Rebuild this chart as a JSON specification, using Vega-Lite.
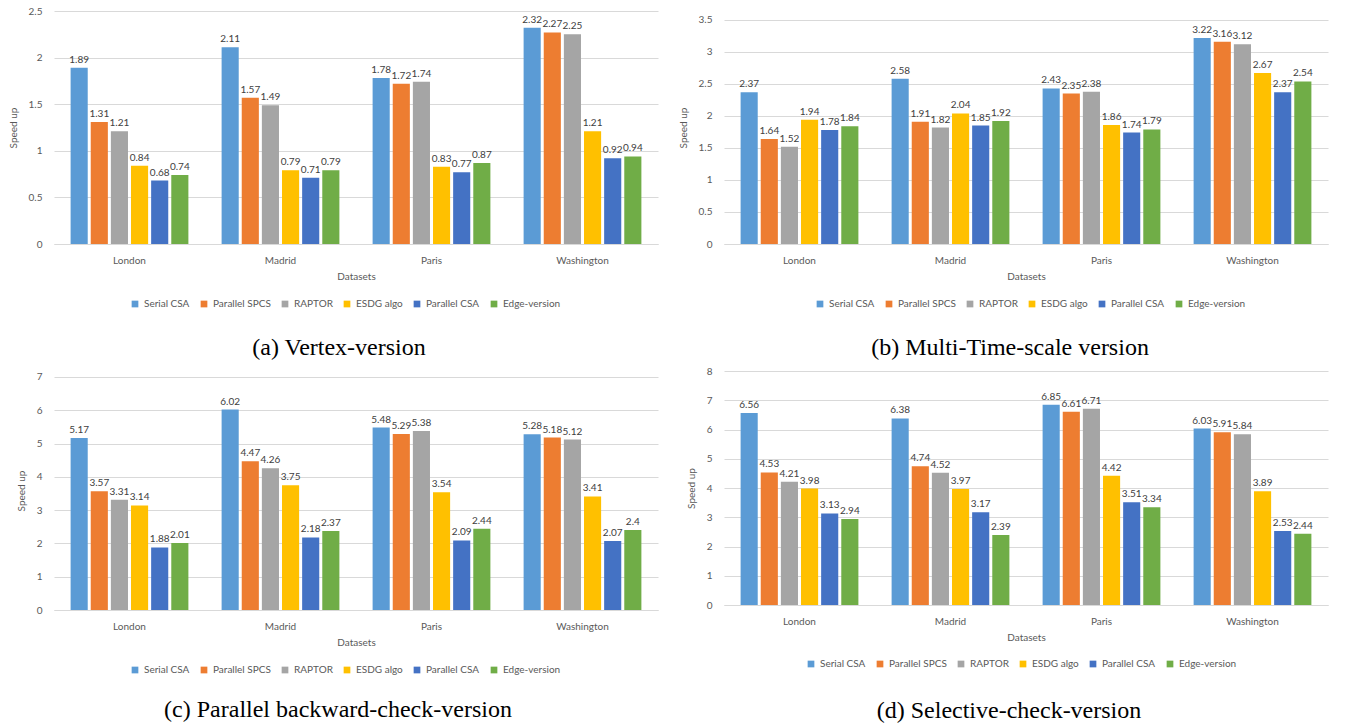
{
"$schema":"https://vega.github.io/schema/vega-lite/v6.json",
"padding":{"left":8,"top":6,"right":8,"bottom":0},
"background":"white",
"datasets":{"d":[
{"panel":"a","city":"London","method":"Serial CSA","value":1.89},{"panel":"a","city":"London","method":"Parallel SPCS","value":1.31},{"panel":"a","city":"London","method":"RAPTOR","value":1.21},{"panel":"a","city":"London","method":"ESDG algo","value":0.84},{"panel":"a","city":"London","method":"Parallel CSA","value":0.68},{"panel":"a","city":"London","method":"Edge-version","value":0.74},
{"panel":"a","city":"Madrid","method":"Serial CSA","value":2.11},{"panel":"a","city":"Madrid","method":"Parallel SPCS","value":1.57},{"panel":"a","city":"Madrid","method":"RAPTOR","value":1.49},{"panel":"a","city":"Madrid","method":"ESDG algo","value":0.79},{"panel":"a","city":"Madrid","method":"Parallel CSA","value":0.71},{"panel":"a","city":"Madrid","method":"Edge-version","value":0.79},
{"panel":"a","city":"Paris","method":"Serial CSA","value":1.78},{"panel":"a","city":"Paris","method":"Parallel SPCS","value":1.72},{"panel":"a","city":"Paris","method":"RAPTOR","value":1.74},{"panel":"a","city":"Paris","method":"ESDG algo","value":0.83},{"panel":"a","city":"Paris","method":"Parallel CSA","value":0.77},{"panel":"a","city":"Paris","method":"Edge-version","value":0.87},
{"panel":"a","city":"Washington","method":"Serial CSA","value":2.32},{"panel":"a","city":"Washington","method":"Parallel SPCS","value":2.27},{"panel":"a","city":"Washington","method":"RAPTOR","value":2.25},{"panel":"a","city":"Washington","method":"ESDG algo","value":1.21},{"panel":"a","city":"Washington","method":"Parallel CSA","value":0.92},{"panel":"a","city":"Washington","method":"Edge-version","value":0.94},
{"panel":"b","city":"London","method":"Serial CSA","value":2.37},{"panel":"b","city":"London","method":"Parallel SPCS","value":1.64},{"panel":"b","city":"London","method":"RAPTOR","value":1.52},{"panel":"b","city":"London","method":"ESDG algo","value":1.94},{"panel":"b","city":"London","method":"Parallel CSA","value":1.78},{"panel":"b","city":"London","method":"Edge-version","value":1.84},
{"panel":"b","city":"Madrid","method":"Serial CSA","value":2.58},{"panel":"b","city":"Madrid","method":"Parallel SPCS","value":1.91},{"panel":"b","city":"Madrid","method":"RAPTOR","value":1.82},{"panel":"b","city":"Madrid","method":"ESDG algo","value":2.04},{"panel":"b","city":"Madrid","method":"Parallel CSA","value":1.85},{"panel":"b","city":"Madrid","method":"Edge-version","value":1.92},
{"panel":"b","city":"Paris","method":"Serial CSA","value":2.43},{"panel":"b","city":"Paris","method":"Parallel SPCS","value":2.35},{"panel":"b","city":"Paris","method":"RAPTOR","value":2.38},{"panel":"b","city":"Paris","method":"ESDG algo","value":1.86},{"panel":"b","city":"Paris","method":"Parallel CSA","value":1.74},{"panel":"b","city":"Paris","method":"Edge-version","value":1.79},
{"panel":"b","city":"Washington","method":"Serial CSA","value":3.22},{"panel":"b","city":"Washington","method":"Parallel SPCS","value":3.16},{"panel":"b","city":"Washington","method":"RAPTOR","value":3.12},{"panel":"b","city":"Washington","method":"ESDG algo","value":2.67},{"panel":"b","city":"Washington","method":"Parallel CSA","value":2.37},{"panel":"b","city":"Washington","method":"Edge-version","value":2.54},
{"panel":"c","city":"London","method":"Serial CSA","value":5.17},{"panel":"c","city":"London","method":"Parallel SPCS","value":3.57},{"panel":"c","city":"London","method":"RAPTOR","value":3.31},{"panel":"c","city":"London","method":"ESDG algo","value":3.14},{"panel":"c","city":"London","method":"Parallel CSA","value":1.88},{"panel":"c","city":"London","method":"Edge-version","value":2.01},
{"panel":"c","city":"Madrid","method":"Serial CSA","value":6.02},{"panel":"c","city":"Madrid","method":"Parallel SPCS","value":4.47},{"panel":"c","city":"Madrid","method":"RAPTOR","value":4.26},{"panel":"c","city":"Madrid","method":"ESDG algo","value":3.75},{"panel":"c","city":"Madrid","method":"Parallel CSA","value":2.18},{"panel":"c","city":"Madrid","method":"Edge-version","value":2.37},
{"panel":"c","city":"Paris","method":"Serial CSA","value":5.48},{"panel":"c","city":"Paris","method":"Parallel SPCS","value":5.29},{"panel":"c","city":"Paris","method":"RAPTOR","value":5.38},{"panel":"c","city":"Paris","method":"ESDG algo","value":3.54},{"panel":"c","city":"Paris","method":"Parallel CSA","value":2.09},{"panel":"c","city":"Paris","method":"Edge-version","value":2.44},
{"panel":"c","city":"Washington","method":"Serial CSA","value":5.28},{"panel":"c","city":"Washington","method":"Parallel SPCS","value":5.18},{"panel":"c","city":"Washington","method":"RAPTOR","value":5.12},{"panel":"c","city":"Washington","method":"ESDG algo","value":3.41},{"panel":"c","city":"Washington","method":"Parallel CSA","value":2.07},{"panel":"c","city":"Washington","method":"Edge-version","value":2.4},
{"panel":"d","city":"London","method":"Serial CSA","value":6.56},{"panel":"d","city":"London","method":"Parallel SPCS","value":4.53},{"panel":"d","city":"London","method":"RAPTOR","value":4.21},{"panel":"d","city":"London","method":"ESDG algo","value":3.98},{"panel":"d","city":"London","method":"Parallel CSA","value":3.13},{"panel":"d","city":"London","method":"Edge-version","value":2.94},
{"panel":"d","city":"Madrid","method":"Serial CSA","value":6.38},{"panel":"d","city":"Madrid","method":"Parallel SPCS","value":4.74},{"panel":"d","city":"Madrid","method":"RAPTOR","value":4.52},{"panel":"d","city":"Madrid","method":"ESDG algo","value":3.97},{"panel":"d","city":"Madrid","method":"Parallel CSA","value":3.17},{"panel":"d","city":"Madrid","method":"Edge-version","value":2.39},
{"panel":"d","city":"Paris","method":"Serial CSA","value":6.85},{"panel":"d","city":"Paris","method":"Parallel SPCS","value":6.61},{"panel":"d","city":"Paris","method":"RAPTOR","value":6.71},{"panel":"d","city":"Paris","method":"ESDG algo","value":4.42},{"panel":"d","city":"Paris","method":"Parallel CSA","value":3.51},{"panel":"d","city":"Paris","method":"Edge-version","value":3.34},
{"panel":"d","city":"Washington","method":"Serial CSA","value":6.03},{"panel":"d","city":"Washington","method":"Parallel SPCS","value":5.91},{"panel":"d","city":"Washington","method":"RAPTOR","value":5.84},{"panel":"d","city":"Washington","method":"ESDG algo","value":3.89},{"panel":"d","city":"Washington","method":"Parallel CSA","value":2.53},{"panel":"d","city":"Washington","method":"Edge-version","value":2.44}
]},
"data":{"name":"d"},
"columns":2,
"spacing":{"column":20,"row":6},
"resolve":{"scale":{"color":"independent","y":"independent","x":"independent","xOffset":"independent"},"legend":{"color":"independent"}},
"concat":[
{"width":604,"height":233,
 "title":{"text":"(a) Vertex-version","orient":"bottom","offset":27,"dx":-17},
 "transform":[{"filter":"datum.panel == 'a'"}],
 "encoding":{
  "x":{"field":"city","type":"nominal","sort":["London","Madrid","Paris","Washington"],"title":"Datasets","scale":{"paddingInner":0.22,"paddingOuter":0.11}},
  "y":{"field":"value","type":"quantitative","title":"Speed up","scale":{"domain":[0,2.5],"nice":false},"axis":{"values":[0,0.5,1,1.5,2,2.5]}},
  "xOffset":{"field":"method","type":"nominal","sort":["Serial CSA","Parallel SPCS","RAPTOR","ESDG algo","Parallel CSA","Edge-version"],"scale":{"paddingInner":0.15}}
 },
 "layer":[
  {"mark":{"type":"bar"},"encoding":{"color":{"field":"method","type":"nominal","sort":["Serial CSA","Parallel SPCS","RAPTOR","ESDG algo","Parallel CSA","Edge-version"],"scale":{"range":["#5B9BD5","#ED7D31","#A5A5A5","#FFC000","#4472C4","#70AD47"]},"legend":{"orient":"none","legendX":76,"legendY":288}}}},
  {"mark":{"type":"text","dy":-8},"encoding":{"text":{"field":"value","type":"quantitative"}}}
 ]},
{"width":604,"height":233,
 "title":{"text":"(b) Multi-Time-scale version","orient":"bottom","offset":27,"dx":-16},
 "transform":[{"filter":"datum.panel == 'b'"}],
 "encoding":{
  "x":{"field":"city","type":"nominal","sort":["London","Madrid","Paris","Washington"],"title":"Datasets","scale":{"paddingInner":0.22,"paddingOuter":0.11}},
  "y":{"field":"value","type":"quantitative","title":"Speed up","scale":{"domain":[0,3.64],"nice":false},"axis":{"values":[0,0.5,1,1.5,2,2.5,3,3.5]}},
  "xOffset":{"field":"method","type":"nominal","sort":["Serial CSA","Parallel SPCS","RAPTOR","ESDG algo","Parallel CSA","Edge-version"],"scale":{"paddingInner":0.15}}
 },
 "layer":[
  {"mark":{"type":"bar"},"encoding":{"color":{"field":"method","type":"nominal","sort":["Serial CSA","Parallel SPCS","RAPTOR","ESDG algo","Parallel CSA","Edge-version"],"scale":{"range":["#5B9BD5","#ED7D31","#A5A5A5","#FFC000","#4472C4","#70AD47"]},"legend":{"orient":"none","legendX":91,"legendY":288}}}},
  {"mark":{"type":"text","dy":-8},"encoding":{"text":{"field":"value","type":"quantitative"}}}
 ]},
{"width":604,"height":239,
 "title":{"text":"(c) Parallel backward-check-version","orient":"bottom","offset":23,"dx":-18},
 "transform":[{"filter":"datum.panel == 'c'"}],
 "encoding":{
  "x":{"field":"city","type":"nominal","sort":["London","Madrid","Paris","Washington"],"title":"Datasets","scale":{"paddingInner":0.22,"paddingOuter":0.11}},
  "y":{"field":"value","type":"quantitative","title":"Speed up","scale":{"domain":[0,7.18],"nice":false},"axis":{"values":[0,1,2,3,4,5,6,7]}},
  "xOffset":{"field":"method","type":"nominal","sort":["Serial CSA","Parallel SPCS","RAPTOR","ESDG algo","Parallel CSA","Edge-version"],"scale":{"paddingInner":0.15}}
 },
 "layer":[
  {"mark":{"type":"bar"},"encoding":{"color":{"field":"method","type":"nominal","sort":["Serial CSA","Parallel SPCS","RAPTOR","ESDG algo","Parallel CSA","Edge-version"],"scale":{"range":["#5B9BD5","#ED7D31","#A5A5A5","#FFC000","#4472C4","#70AD47"]},"legend":{"orient":"none","legendX":76,"legendY":294}}}},
  {"mark":{"type":"text","dy":-8},"encoding":{"text":{"field":"value","type":"quantitative"}}}
 ]},
{"width":604,"height":234,
 "title":{"text":"(d) Selective-check-version","orient":"bottom","offset":30,"dx":-17},
 "transform":[{"filter":"datum.panel == 'd'"}],
 "encoding":{
  "x":{"field":"city","type":"nominal","sort":["London","Madrid","Paris","Washington"],"title":"Datasets","scale":{"paddingInner":0.22,"paddingOuter":0.11}},
  "y":{"field":"value","type":"quantitative","title":"Speed up","scale":{"domain":[0,8],"nice":false},"axis":{"values":[0,1,2,3,4,5,6,7,8]}},
  "xOffset":{"field":"method","type":"nominal","sort":["Serial CSA","Parallel SPCS","RAPTOR","ESDG algo","Parallel CSA","Edge-version"],"scale":{"paddingInner":0.15}}
 },
 "layer":[
  {"mark":{"type":"bar"},"encoding":{"color":{"field":"method","type":"nominal","sort":["Serial CSA","Parallel SPCS","RAPTOR","ESDG algo","Parallel CSA","Edge-version"],"scale":{"range":["#5B9BD5","#ED7D31","#A5A5A5","#FFC000","#4472C4","#70AD47"]},"legend":{"orient":"none","legendX":82,"legendY":288}}}},
  {"mark":{"type":"text","dy":-8},"encoding":{"text":{"field":"value","type":"quantitative"}}}
 ]}
],
"config":{
 "font":"Lato",
 "view":{"stroke":null},
 "title":{"font":"Liberation Serif","fontSize":24,"fontWeight":"normal","color":"#000000"},
 "text":{"font":"Lato","fontSize":10,"color":"#404040"},
 "axis":{"labelFont":"Lato","titleFont":"Lato","labelFontSize":10,"titleFontSize":10,"labelColor":"#595959","titleColor":"#595959","titleFontWeight":"normal","ticks":false,"gridColor":"#D9D9D9"},
 "axisX":{"labelAngle":0,"domainColor":"#D9D9D9","labelPadding":11,"titlePadding":6,"grid":false},
 "axisY":{"domain":false,"labelPadding":12,"format":"~g","titlePadding":10},
 "legend":{"direction":"horizontal","title":null,"symbolType":"square","symbolSize":45,"labelFont":"Lato","labelFontSize":10,"labelColor":"#595959","columnPadding":9,"symbolStrokeWidth":0}
}
}
